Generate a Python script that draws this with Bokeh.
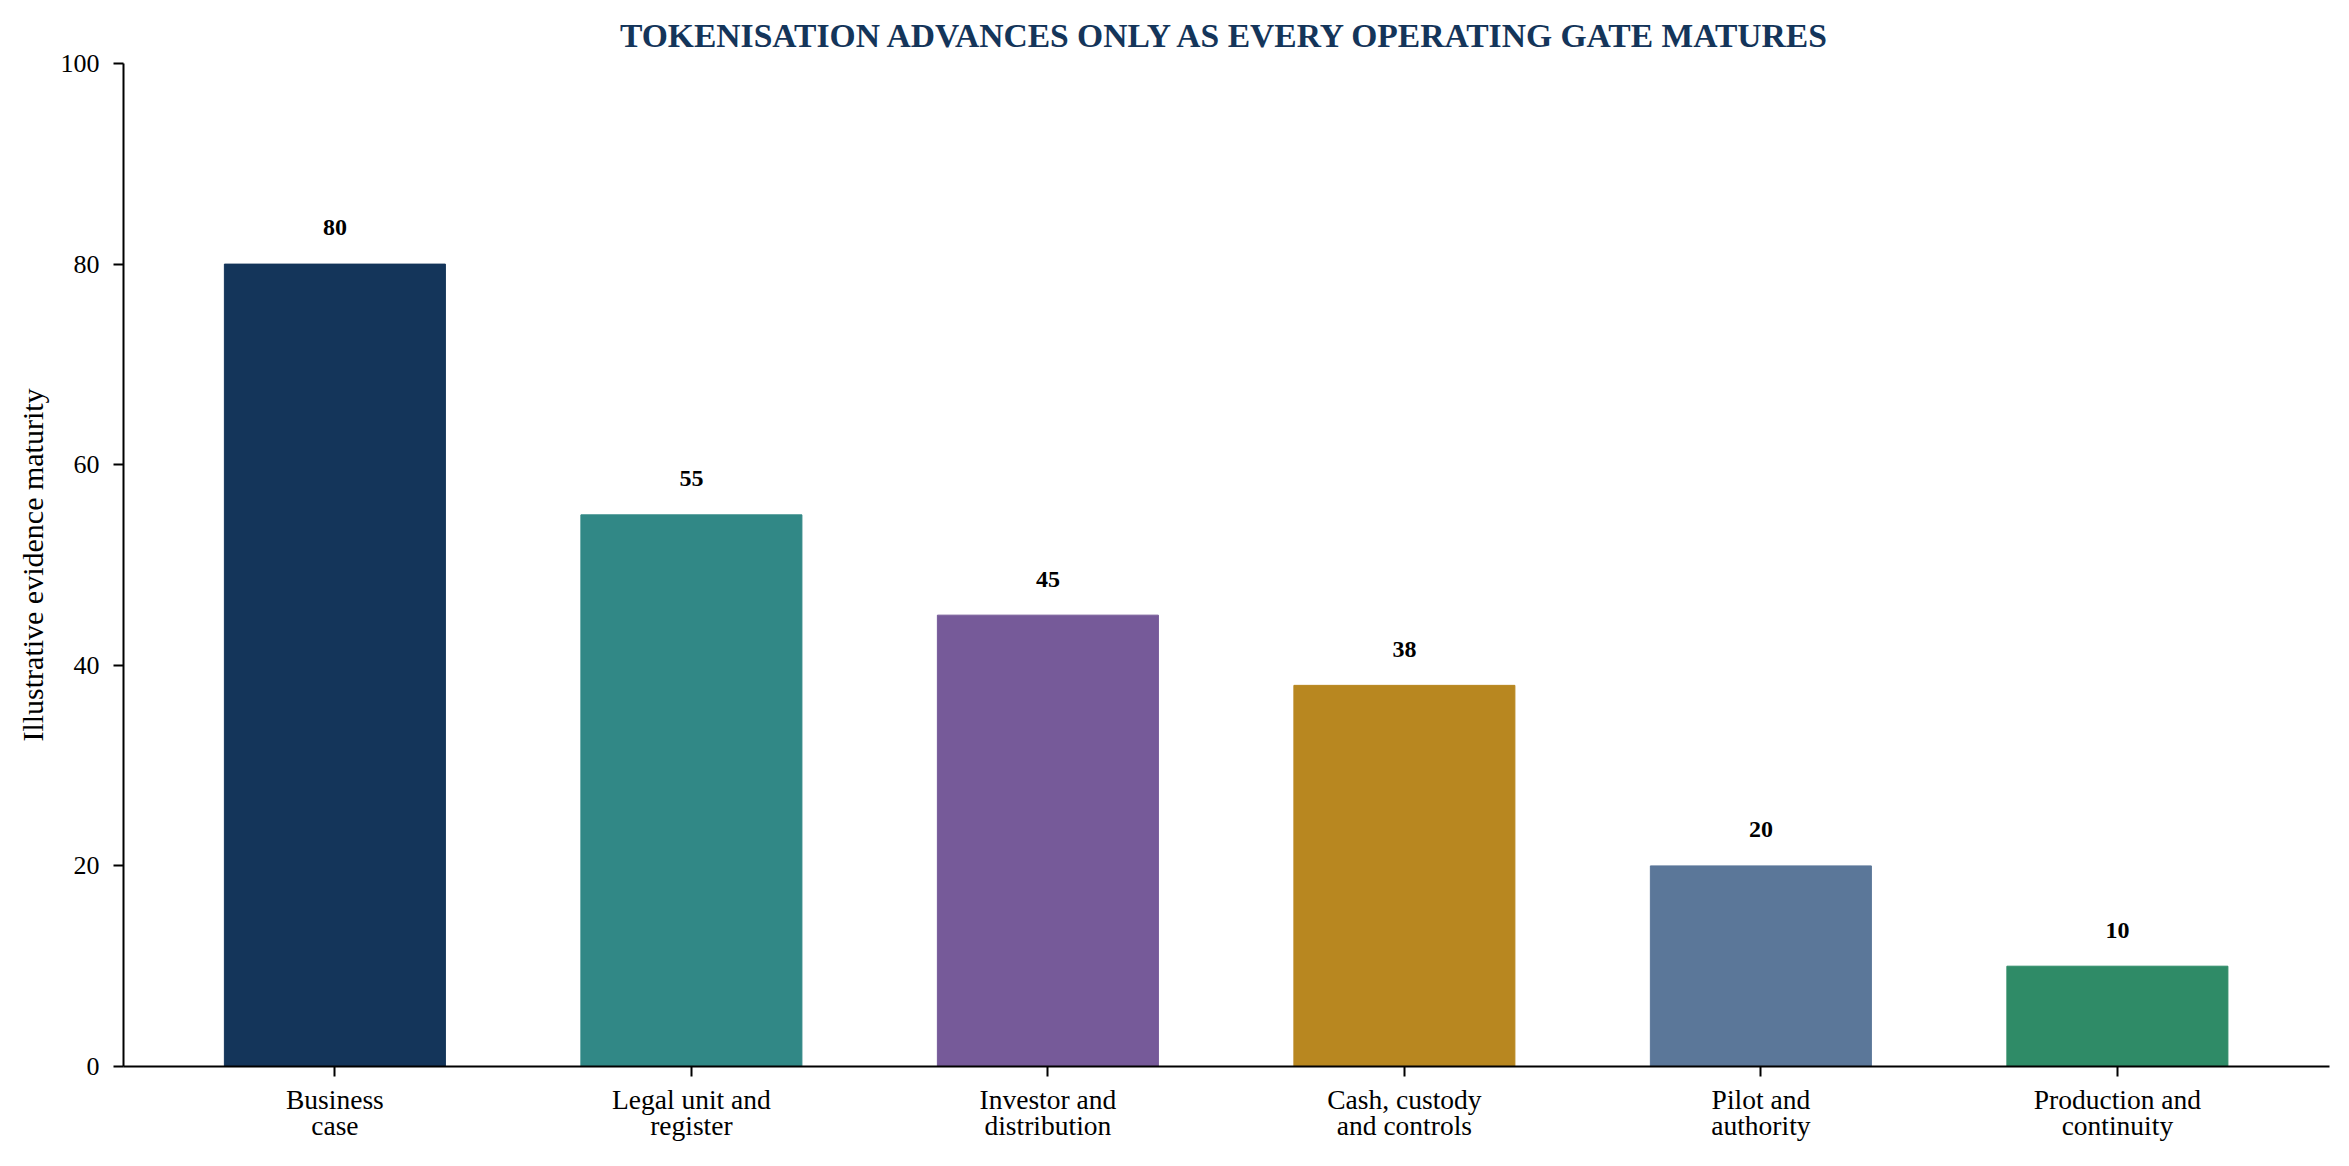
from bokeh.plotting import figure
from bokeh.models import ColumnDataSource, FixedTicker, Range1d, LinearAxis
from bokeh.embed import file_html
from bokeh.resources import INLINE
from bokeh.core.properties import value

categories_line1 = ["Business", "Legal unit and", "Investor and", "Cash, custody", "Pilot and", "Production and"]
categories_line2 = ["case", "register", "distribution", "and controls", "authority", "continuity"]
maturity = [80, 55, 45, 38, 20, 10]
colors = ["#14355A", "#318886", "#765A99", "#B88720", "#5B7799", "#2F8B67"]
y_ticks = [0, 20, 40, 60, 80, 100]

FONT = "Liberation Serif"
xs = list(range(len(maturity)))
label_offset = 3.6

src = ColumnDataSource(dict(x=xs, top=maturity, color=colors,
                            ly=[v + label_offset for v in maturity],
                            txt=[str(v) for v in maturity]))

p = figure(width=2333, height=1146, output_backend="svg", toolbar_location=None,
           x_range=Range1d(-0.593, len(maturity) - 1 + 0.595), y_range=Range1d(0, 100),
           min_border_left=123, min_border_right=4, min_border_top=63, min_border_bottom=80)

p.vbar(x="x", top="top", bottom=0, width=0.62, color="color", source=src)
p.text(x="x", y="ly", text="txt", source=src, text_align="center", text_baseline="alphabetic",
       text_font=value(FONT), text_font_style="bold", text_font_size="24px", text_color="black")

p.title.text = "TOKENISATION ADVANCES ONLY AS EVERY OPERATING GATE MATURES"
p.title.text_font = FONT
p.title.text_font_size = "33.6px"
p.title.text_font_style = "bold"
p.title.text_color = "#14355A"
p.title.align = "center"
p.title.standoff = 20

p.xgrid.visible = False
p.ygrid.visible = False
p.outline_line_color = None

xax = p.xaxis[0]
yax = p.yaxis[0]
xax.ticker = FixedTicker(ticks=xs)
xax.major_label_overrides = {i: c for i, c in enumerate(categories_line1)}
yax.ticker = FixedTicker(ticks=y_ticks)

for ax in (xax, yax):
    ax.axis_line_width = 2
    ax.axis_line_color = "black"
    ax.major_tick_line_width = 2
    ax.major_tick_line_color = "black"
    ax.major_tick_out = 10
    ax.major_tick_in = 0
    ax.minor_tick_line_color = None
    ax.major_label_text_font = FONT
    ax.major_label_text_color = "black"

xax.major_label_text_font_size = "27.5px"
yax.major_label_text_font_size = "26px"
xax.major_label_standoff = 7
yax.major_label_standoff = 14

xax2 = LinearAxis(ticker=FixedTicker(ticks=xs),
                  major_label_overrides={i: c for i, c in enumerate(categories_line2)})
xax2.axis_line_color = None
xax2.major_tick_line_color = None
xax2.minor_tick_line_color = None
xax2.major_tick_out = 0
xax2.major_tick_in = 0
xax2.major_label_standoff = -8
xax2.major_label_text_font = FONT
xax2.major_label_text_font_size = "27.5px"
xax2.major_label_text_color = "black"
p.add_layout(xax2, "below")

yax.axis_label = "Illustrative evidence maturity"
yax.axis_label_text_font = FONT
yax.axis_label_text_font_size = "30px"
yax.axis_label_text_font_style = "normal"
yax.axis_label_text_color = "black"
yax.axis_label_standoff = 9

open("out.html", "w").write(file_html(p, INLINE))
